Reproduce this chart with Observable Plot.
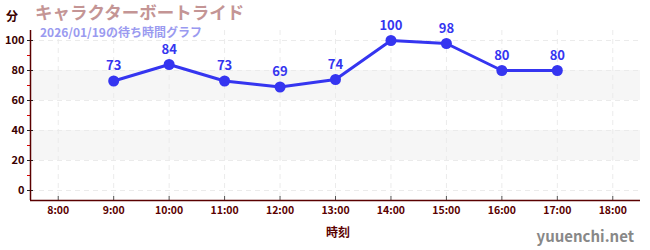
<!DOCTYPE html>
<html><head><meta charset="utf-8">
<script src="https://cdn.jsdelivr.net/npm/d3@7"></script>
<script src="https://cdn.jsdelivr.net/npm/@observablehq/plot@0.6"></script>
<style>
body{margin:0;background:#fff;font-family:"Noto Sans CJK JP","Noto Sans",sans-serif;}
#wrap{position:relative;width:650px;height:250px;}
.ov{position:absolute;white-space:nowrap;font-weight:bold;line-height:1;}
</style></head>
<body><div id="wrap">
<div class="ov" style="left:35px;top:3px;font-size:17.5px;color:#c49595;">キャラクターボートライド</div>
<div class="ov" style="left:40px;top:26px;font-size:12px;color:#9a9af0;">2026/01/19の待ち時間グラフ</div>
<div class="ov" style="left:6px;top:10px;font-size:12px;color:#3a0000;">分</div>
<div class="ov" style="left:326px;top:226px;font-size:12px;color:#5a0000;">時刻</div>
<div class="ov" style="right:16px;top:228px;font-size:15px;color:#888;">yuuenchi.net</div>
</div>
<script>
const hours = [9,10,11,12,13,14,15,16,17];
const waits = [73,84,73,69,74,100,98,80,80];
const xTicks = [8,9,10,11,12,13,14,15,16,17,18];
const yTicks = [0,20,40,60,80,100];
const yMinor = [10,30,50,70,90];
const bands = [[20,40],[60,80]];
const xDomain = [7.5,18.5];
const yDomain = [-20/3,320/3];

const data = hours.map((h,i)=>({h, v:waits[i]}));
const axisColor = "#5a0000";
const blue = "#3535f0";

const chart = Plot.plot({
  width:650, height:250,
  marginLeft:30, marginRight:10, marginTop:30, marginBottom:50,
  style:{fontFamily:'"Noto Sans CJK JP","Noto Sans",sans-serif', background:"transparent"},
  x:{domain:xDomain},
  y:{domain:yDomain},
  marks:[
    Plot.rectY(bands,{y1:d=>d[0], y2:d=>d[1], fill:"#f6f6f6"}),
    Plot.ruleX(xTicks,{stroke:"#ebebeb", strokeDasharray:"5,4"}),
    Plot.ruleY(yTicks,{stroke:"#ebebeb", strokeDasharray:"5,4"}),
    Plot.axisY(yMinor,{tickSize:3, tickFormat:()=>"", stroke:"#dd0000", label:null}),
    Plot.axisY(yTicks,{tickSize:6, dx:3, tickPadding:3, stroke:"#222", fill:"#3a0000", fontSize:11, fontWeight:"bold", label:null}),
    Plot.axisX(xTicks,{tickSize:4, dy:-4, tickPadding:6, stroke:"#555", fill:axisColor, fontSize:10.5, fontWeight:"bold", tickFormat:d=>`${d}:00`, label:null}),
    Plot.ruleX([xDomain[0]],{stroke:axisColor, strokeWidth:1.5}),
    Plot.ruleY([yDomain[0]],{stroke:axisColor, strokeWidth:1.5}),
    Plot.line(data,{x:"h", y:"v", stroke:blue, strokeWidth:3}),
    Plot.dot(data,{x:"h", y:"v", r:5.5, fill:blue}),
    Plot.text(data,{x:"h", y:"v", text:d=>String(d.v), dy:-15, fill:blue, fontSize:13, fontWeight:"bold"})
  ]
});
chart.style.position="absolute";
chart.style.left="0";
chart.style.top="0";
document.getElementById("wrap").prepend(chart);
</script>
</body></html>
